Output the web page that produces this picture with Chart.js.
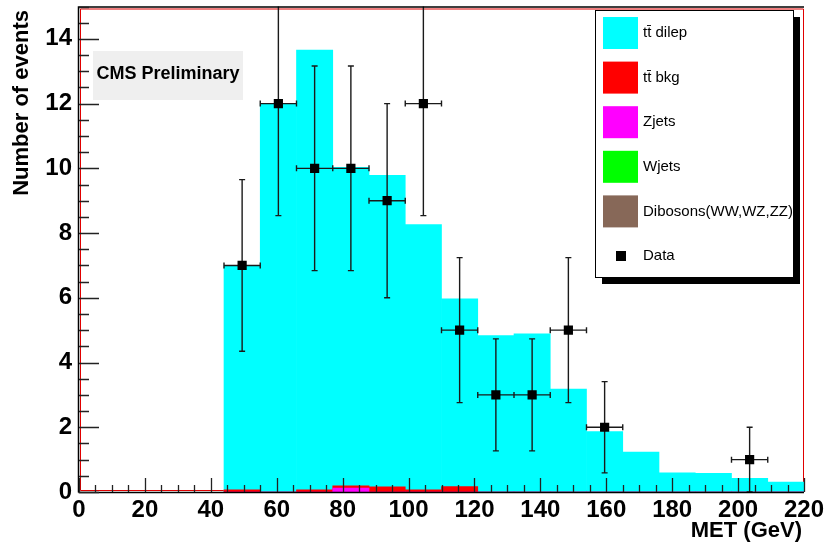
<!DOCTYPE html>
<html>
<head>
<meta charset="utf-8">
<script src="https://cdn.jsdelivr.net/npm/chart.js@4.4.1/dist/chart.umd.min.js"></script>
<style>
  html, body { margin:0; padding:0; background:#fff; }
  #wrap { width:826px; height:545px; position:relative; }
</style>
</head>
<body>
<div id="wrap"><canvas id="chart"></canvas></div>
<script>
/* ── MET distribution, CMS preliminary style ───────────────────────────── */

// histogram bins (GeV), width 11
const BIN_HALF = 5.5;
const binCenters = [49.5,60.5,71.5,82.5,93.5,104.5,115.5,126.5,137.5,148.5,159.5,170.5,181.5,192.5,203.5,214.5];
// stacked MC: height of full stack (cyan top), tt bkg top, Z+jets top
const stackTotal = [7.0,12.0,13.65,10.03,9.78,8.26,5.97,4.83,4.89,3.18,1.87,1.23,0.59,0.58,0.42,0.31];
const ttbkgTop   = [0.07,0,0.07,0.19,0.16,0.07,0.17,0,0,0,0,0,0,0,0,0];
const zjetsTop   = [0,0,0,0.12,0,0,0,0,0,0,0,0,0,0,0,0];

// data points
const dataX   = [49.5,60.5,71.5,82.5,93.5,104.5,115.5,126.5,137.5,148.5,159.5,203.5];
const dataY   = [7,12,10,10,9,12,5,3,3,5,2,1];
const dataErr = [2.65,3.46,3.16,3.16,3.0,3.46,2.24,1.73,1.73,2.24,1.41,1.0];

// axes
const xTicks = [0,20,40,60,80,100,120,140,160,180,200,220];
const yTicks = [0,2,4,6,8,10,12,14];

// legend
const legendLabels = ["tt\u0304 dilep","tt\u0304 bkg","Zjets","Wjets","Dibosons(WW,WZ,ZZ)","Data"];
const legendColors = ["#00ffff","#ff0000","#ff00ff","#00ff00","#876858","#000000"];

const FONT = "'Liberation Sans', Arial, Helvetica, sans-serif";
Chart.defaults.font.family = FONT;
Chart.defaults.color = "#000";

const pts = arr => binCenters.map((x,i)=>({x, y:arr[i]}));

// frame + tick marks + error bars + legend + labels
const rootStyle = {
  id: "rootStyle",
  beforeDatasetsDraw(chart) {
    const {ctx, chartArea:a} = chart;
    ctx.save();
    ctx.strokeStyle = "#e00000"; ctx.lineWidth = 1;
    ctx.beginPath();
    ctx.moveTo(a.left+1.5, a.bottom-1.5); ctx.lineTo(a.right-0.5, a.bottom-1.5);
    ctx.lineTo(a.right-0.5, a.top+2.5); ctx.lineTo(a.left+1.5, a.top+2.5); ctx.closePath();
    ctx.stroke();
    ctx.restore();
  },
  beforeDatasetDraw(chart, args) {
    if (chart.data.datasets[args.index].type !== "scatter") return;
    const {ctx, chartArea:a, scales:{x,y}} = chart;
    ctx.save();
    ctx.beginPath(); ctx.rect(a.left, a.top, a.right-a.left, a.bottom-a.top); ctx.clip();
    ctx.strokeStyle = "#1a1a1a"; ctx.lineWidth = 1.4;
    ctx.beginPath();
    dataX.forEach((v,i) => {
      const px = x.getPixelForValue(v), py = y.getPixelForValue(dataY[i]);
      const x1 = x.getPixelForValue(v-BIN_HALF), x2 = x.getPixelForValue(v+BIN_HALF);
      const y1 = y.getPixelForValue(dataY[i]+dataErr[i]), y2 = y.getPixelForValue(dataY[i]-dataErr[i]);
      ctx.moveTo(x1, py); ctx.lineTo(x2, py);
      ctx.moveTo(x1, py-3); ctx.lineTo(x1, py+3);
      ctx.moveTo(x2, py-3); ctx.lineTo(x2, py+3);
      ctx.moveTo(px, y1); ctx.lineTo(px, y2);
      ctx.moveTo(px-3, y1); ctx.lineTo(px+3, y1);
      ctx.moveTo(px-3, y2); ctx.lineTo(px+3, y2);
    });
    ctx.stroke();
    ctx.restore();
  },
  afterDraw(chart) {
    const {ctx, chartArea:a, scales:{x,y}} = chart;
    ctx.save();
    // axis lines
    ctx.strokeStyle = "#000"; ctx.lineWidth = 1.5;
    ctx.beginPath();
    ctx.moveTo(a.left-0.5, a.bottom+0.5); ctx.lineTo(a.left-0.5, a.top+0.5); ctx.lineTo(a.right, a.top+0.5);
    ctx.moveTo(a.left-0.5, a.bottom+0.5); ctx.lineTo(a.right, a.bottom+0.5);
    ctx.stroke();
    // ticks (inward)
    ctx.strokeStyle = "#222"; ctx.lineWidth = 1.3;
    ctx.beginPath();
    for (let v = 0; v <= 15; v += 0.5) {
      const p = Math.round(y.getPixelForValue(v)) + 0.5;
      const len = yTicks.includes(v) ? 20 : 10;
      ctx.moveTo(a.left, p); ctx.lineTo(a.left+len, p);
    }
    for (let v = 0; v <= 220; v += 5) {
      const p = Math.round(x.getPixelForValue(v)) + 0.5;
      const len = xTicks.includes(v) ? 14 : 7;
      ctx.moveTo(p, a.bottom); ctx.lineTo(p, a.bottom-len);
    }
    ctx.stroke();

    // CMS Preliminary box
    ctx.fillStyle = "#efefef";
    ctx.fillRect(93, 51, 150, 49);
    ctx.fillStyle = "#000";
    ctx.font = `bold 18px ${FONT}`;
    ctx.textAlign = "center"; ctx.textBaseline = "middle";
    ctx.fillText("CMS Preliminary", 168, 74);

    // axis titles
    ctx.font = `bold 22px ${FONT}`;
    ctx.textAlign = "right"; ctx.textBaseline = "alphabetic";
    ctx.fillText("MET (GeV)", 802, 537);
    ctx.save();
    ctx.translate(28, 10); ctx.rotate(-Math.PI/2);
    ctx.textAlign = "right";
    ctx.fillText("Number of events", 0, 0);
    ctx.restore();

    // legend with shadow
    const L = 595, T = 10, W = 198, H = 267;
    ctx.fillStyle = "#000";
    ctx.fillRect(L+7, T+7, W, H);
    ctx.fillStyle = "#fff";
    ctx.fillRect(L, T, W, H);
    ctx.strokeStyle = "#000"; ctx.lineWidth = 1;
    ctx.strokeRect(L+0.5, T+0.5, W, H);
    ctx.font = `15px ${FONT}`;
    ctx.textAlign = "left"; ctx.textBaseline = "middle";
    legendLabels.forEach((lab, i) => {
      const cy = 33 + i*44.6;
      ctx.fillStyle = legendColors[i];
      if (lab === "Data") ctx.fillRect(616, cy-5, 10, 10);
      else ctx.fillRect(603, cy-16, 35, 32);
      ctx.fillStyle = "#000";
      ctx.fillText(lab, 643, cy);
    });
    ctx.restore();
  }
};

new Chart(document.getElementById("chart"), {
  type: "bar",
  data: {
    datasets: [
      { type:"scatter", label:"Data", data: dataX.map((x,i)=>({x, y:dataY[i]})),
        pointStyle:"rect", pointRadius:6.5, backgroundColor:"#000", borderWidth:0 },
      { label:"Zjets", data: pts(zjetsTop), backgroundColor:"#ff00ff" },
      { label:"tt bkg", data: pts(ttbkgTop), backgroundColor:"#ff0000" },
      { label:"tt dilep", data: pts(stackTotal), backgroundColor:"#00ffff" }
    ]
  },
  options: {
    responsive: true, maintainAspectRatio: false, animation: false,
    devicePixelRatio: 1,
    layout: { padding: { top:2, right:22, left:0, bottom:0 } },
    datasets: { bar: { grouped:false, barPercentage:1, categoryPercentage:1, borderWidth:0 } },
    plugins: { legend:{display:false}, tooltip:{enabled:false} },
    scales: {
      x: {
        type:"linear", min:0, max:220, offset:false,
        afterBuildTicks: s => { s.ticks = xTicks.map(v=>({value:v})); },
        afterFit: s => { s.height = 53; s.paddingLeft = 0; s.paddingRight = 0; },
        grid: { display:false, drawTicks:false }, border: { display:false },
        ticks: { font:{size:24, weight:"bold"}, color:"#000", padding:4, maxRotation:0, autoSkip:false }
      },
      y: {
        min:0, max:15,
        afterBuildTicks: s => { s.ticks = yTicks.map(v=>({value:v})); },
        afterFit: s => { s.width = 79; s.paddingTop = 0; s.paddingBottom = 0; },
        grid: { display:false, drawTicks:false }, border: { display:false },
        ticks: { font:{size:24, weight:"bold"}, color:"#000", padding:7 }
      }
    }
  },
  plugins: [rootStyle]
});
</script>
</body>
</html>
